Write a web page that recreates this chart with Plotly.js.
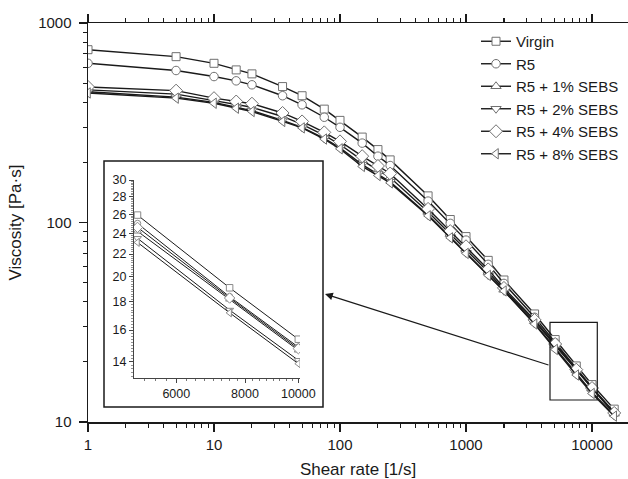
<!DOCTYPE html>
<html>
<head>
<meta charset="utf-8">
<script src="https://cdn.plot.ly/plotly-3.0.1.min.js"></script>
<style>html,body{margin:0;padding:0;background:#fff;}#chart{width:628px;height:479px;}</style>
</head>
<body>
<div id="chart"></div>
<script>
// ---- data ----
var shearRate = [1, 5, 10, 15, 20, 35, 50, 75, 100, 150, 200, 250, 500, 750, 1000, 1500, 2000, 3500, 5100, 7500, 10000, 15000];
var seriesNames = ['Virgin', 'R5', 'R5 + 1% SEBS', 'R5 + 2% SEBS', 'R5 + 4% SEBS', 'R5 + 8% SEBS'];
var virgin  = [735, 678, 628, 582, 556, 480, 432, 370, 325, 268, 232, 206, 136, 103.5, 85, 64.6, 51.5, 34.8, 25.9, 19.1, 15.4, 11.6];
var r5      = [628, 578, 539, 513, 490, 432, 389, 337, 300, 250, 215, 193, 128, 99, 81.6, 61.7, 49.5, 33.5, 25.0, 18.4, 14.9, 11.2];
var r5s1    = [462, 440, 408, 390, 378, 340, 310, 273, 246, 205, 183, 168, 113, 87.5, 73, 56.5, 46, 32, 24.2, 18.2, 14.7, 11.0];
var r5s2    = [452, 425, 400, 378, 364, 325, 300, 264, 237, 195, 175, 160, 109, 84.5, 70.5, 54.5, 45.5, 31.2, 23.5, 17.4, 14.1, 10.8];
var r5s4    = [478, 458, 420, 404, 394, 354, 321, 283, 255, 215, 192, 176, 117, 90.5, 76, 58.2, 47, 32.5, 24.6, 18.3, 14.8, 11.1];
var r5s8    = [446, 420, 396, 374, 360, 321, 298, 262, 234, 191, 172, 158, 108, 83.8, 70, 54.3, 45.4, 31.0, 23.1, 17.2, 13.9, 10.7];
var allSeries = [virgin, r5, r5s1, r5s2, r5s4, r5s8];

var xTickVals = [1, 10, 100, 1000, 10000];
var xTickText = ['1', '10', '100', '1000', '10000'];
var yTickVals = [10, 100, 1000];
var yTickText = ['10', '100', '1000'];
var insetXTickVals = [6000, 8000, 10000];
var insetXTickText = ['6000', '8000', '10000'];
var insetYTickVals = [14, 16, 18, 20, 22, 24, 26, 28, 30];
var insetYTickText = ['14', '16', '18', '20', '22', '24', '26', '28', '30'];
var insetStart = 18, insetEnd = 21; // points 5100..10000 shown in the inset

// ---- styles ----
var symbols = ['square', 'circle', 'triangle-up', 'triangle-down', 'diamond', 'triangle-left'];
var sizes = [8, 8.5, 9, 9, 10, 9];
var insetSizes = [6.5, 6.5, 7, 7, 8, 7];
var FONT = 'Liberation Sans, Arial, sans-serif';
var INK = '#1a1a1a';

function minorLogVals(lo, hi) {
  var v = [];
  for (var d = lo; d < hi; d *= 10) for (var k = 2; k <= 9; k++) v.push(k * d);
  return v;
}
function stepVals(a, b, s) { var v = []; for (var t = a; t <= b + 1e-9; t += s) v.push(+t.toFixed(3)); return v; }

var traces = [];
allSeries.forEach(function (ys, i) {
  traces.push({
    x: shearRate, y: ys, name: seriesNames[i], type: 'scatter', mode: 'lines+markers',
    xaxis: 'x', yaxis: 'y',
    line: {color: INK, width: 1.4},
    marker: {symbol: symbols[i], size: sizes[i], color: '#ffffff', line: {color: '#707070', width: 1}}
  });
});
allSeries.forEach(function (ys, i) {
  traces.push({
    x: shearRate.slice(insetStart, insetEnd), y: ys.slice(insetStart, insetEnd),
    name: seriesNames[i], type: 'scatter', mode: 'lines+markers', showlegend: false,
    xaxis: 'x2', yaxis: 'y2',
    line: {color: INK, width: 1},
    marker: {symbol: symbols[i], size: insetSizes[i], color: '#ffffff', line: {color: '#8a8a8a', width: 1}}
  });
});

var L = 88, T = 23, W = 540, H = 399;
function px(x) { return (x - L) / W; }
function py(y) { return (T + H - y) / H; }

var layout = {
  width: 628, height: 479,
  margin: {l: L, r: 0, t: T, b: 479 - T - H},
  paper_bgcolor: '#ffffff', plot_bgcolor: '#ffffff',
  font: {family: FONT, color: INK, size: 15},
  showlegend: true,
  legend: {x: px(476), y: py(25), xanchor: 'left', yanchor: 'top', bgcolor: 'rgba(0,0,0,0)',
           font: {family: FONT, size: 15, color: INK}, tracegroupgap: 0},
  xaxis: {
    type: 'log', range: [0, Math.log10(19300)], domain: [0, 1],
    showgrid: false, zeroline: false, showline: true, linecolor: INK, linewidth: 1.5,
    mirror: 'ticks', ticks: 'outside', ticklen: 8, tickwidth: 1.3, tickcolor: INK,
    tickvals: xTickVals, ticktext: xTickText, tickfont: {size: 15, family: FONT, color: INK},
    minor: {tickvals: minorLogVals(1, 10000), ticks: 'outside', ticklen: 4, tickwidth: 1.1, tickcolor: INK, showgrid: false},
    title: {text: 'Shear rate [1/s]', font: {size: 17, family: FONT, color: INK}, standoff: 12}
  },
  yaxis: {
    type: 'log', range: [1, 3], domain: [0, 1],
    showgrid: false, zeroline: false, showline: true, linecolor: INK, linewidth: 1.5,
    ticks: 'outside', ticklen: 8, tickwidth: 1.3, tickcolor: INK, ticklabelstandoff: 4,
    tickvals: yTickVals, ticktext: yTickText, tickfont: {size: 15, family: FONT, color: INK},
    minor: {tickvals: minorLogVals(10, 1000), ticks: 'outside', ticklen: 4, tickwidth: 1.1, tickcolor: INK, showgrid: false},
    title: {text: 'Viscosity [Pa·s]', font: {size: 17, family: FONT, color: INK}, standoff: 12}
  },
  xaxis2: {
    type: 'log', anchor: 'y2', domain: [px(134), px(300)],
    range: [Math.log10(5026), Math.log10(10070)],
    showgrid: false, zeroline: false, showline: true, linecolor: '#444', linewidth: 1,
    ticks: 'outside', ticklen: 4, tickwidth: 1, tickcolor: '#444',
    tickvals: insetXTickVals, ticktext: insetXTickText, tickfont: {size: 12.5, family: FONT, color: INK},
    minor: {tickvals: stepVals(5250, 10000, 250), ticks: 'outside', ticklen: 2, tickwidth: 0.8, tickcolor: '#555', showgrid: false}
  },
  yaxis2: {
    type: 'log', anchor: 'x2', domain: [py(378), py(180)],
    range: [Math.log10(13.09), Math.log10(30)],
    showgrid: false, zeroline: false, showline: true, linecolor: '#444', linewidth: 1,
    ticks: 'outside', ticklen: 4, tickwidth: 1, tickcolor: '#444',
    tickvals: insetYTickVals, ticktext: insetYTickText, tickfont: {size: 12.5, family: FONT, color: INK},
    minor: {tickvals: stepVals(13.2, 30, 0.2), ticks: 'outside', ticklen: 2, tickwidth: 0.7, tickcolor: '#666', showgrid: false}
  },
  shapes: [
    {type: 'rect', xref: 'paper', yref: 'paper', x0: px(104), x1: px(323), y0: py(407), y1: py(161),
     line: {color: INK, width: 1.5}, fillcolor: '#ffffff', layer: 'below'},
    {type: 'rect', xref: 'paper', yref: 'paper', x0: px(550), x1: px(597.3), y0: py(400), y1: py(322.3),
     line: {color: INK, width: 1.2}, fillcolor: 'rgba(0,0,0,0)', layer: 'above'}
  ],
  annotations: [
    {xref: 'paper', yref: 'paper', axref: 'paper', ayref: 'paper',
     x: px(325), y: py(294), ax: px(550), ay: py(365.5), text: '', showarrow: true,
     arrowhead: 2, arrowsize: 1.3, arrowwidth: 1.2, arrowcolor: INK, standoff: 0, startstandoff: 0}
  ]
};

Plotly.newPlot('chart', traces, layout, {staticPlot: true, displayModeBar: false});
</script>
</body>
</html>
